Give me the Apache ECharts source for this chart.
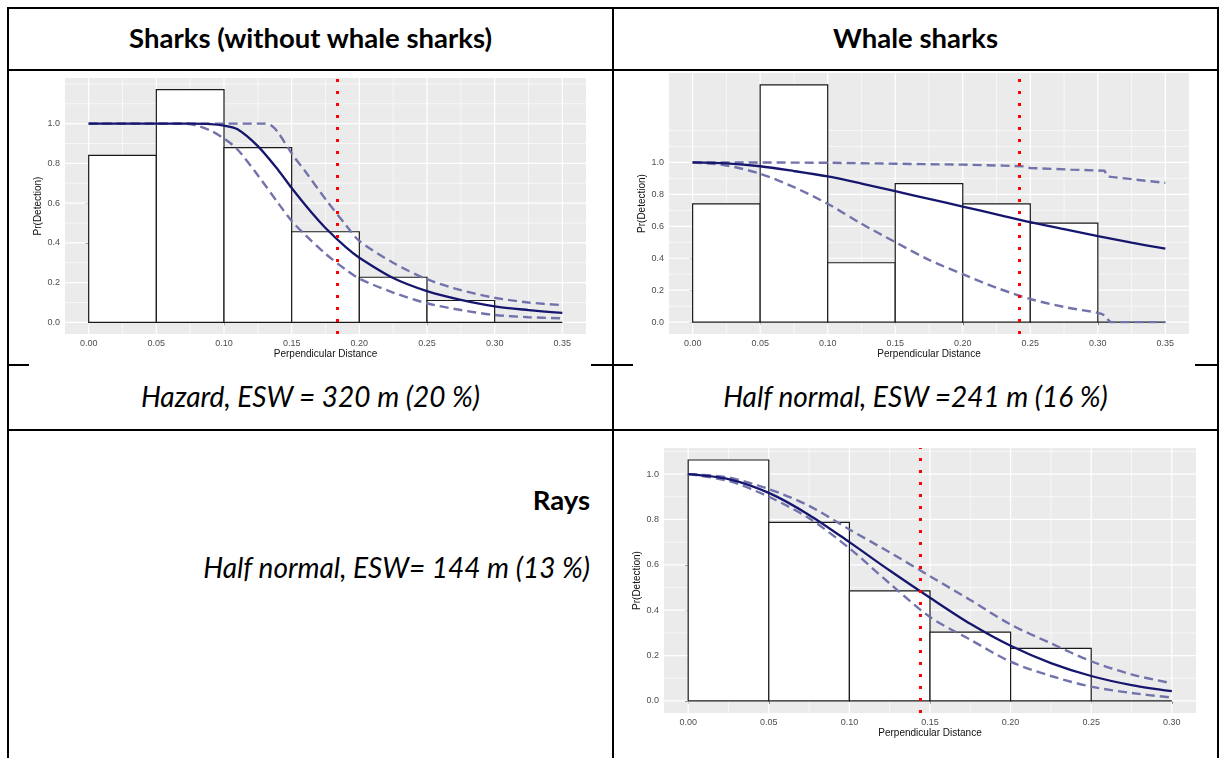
<!DOCTYPE html>
<html>
<head>
<meta charset="utf-8">
<script src="https://cdn.jsdelivr.net/npm/echarts@6/dist/echarts.min.js"></script>
<style>
  html, body { margin: 0; padding: 0; background: #fff; }
  #page { position: relative; width: 1221px; height: 758px; overflow: hidden; background: #fff; }
  .ln { position: absolute; background: #000; }
  .txt { position: absolute; font-family: Lato, "Open Sans", sans-serif; color: #000; white-space: nowrap; }
  .hdr { font-weight: bold; font-size: 27.5px; text-align: center; }
  .cap { font-style: italic; font-size: 28px; text-align: center; }
  #chart { position: absolute; left: 0; top: 0; width: 1221px; height: 758px; }
</style>
</head>
<body>
<div id="page">
  <!-- table rules -->
  <div class="ln" style="left:7px;top:7px;width:1212px;height:2px"></div>
  <div class="ln" style="left:7px;top:69px;width:1212px;height:2px"></div>
  <div class="ln" style="left:7px;top:429px;width:1212px;height:2px"></div>
  <div class="ln" style="left:7px;top:7px;width:2px;height:751px"></div>
  <div class="ln" style="left:612px;top:7px;width:2px;height:751px"></div>
  <div class="ln" style="left:1217px;top:7px;width:2px;height:751px"></div>
  <div class="ln" style="left:7px;top:364px;width:22px;height:2px"></div>
  <div class="ln" style="left:591px;top:364px;width:42px;height:2px"></div>
  <div class="ln" style="left:1195px;top:364px;width:24px;height:2px"></div>

  <div class="txt hdr" style="left:9px;top:21px;width:603px">Sharks (without whale sharks)</div>
  <div class="txt hdr" style="left:614px;top:21px;width:603px">Whale sharks</div>
  <div class="txt cap" style="left:9px;top:379px;width:603px">Hazard, ESW = 320 m (20 %)</div>
  <div class="txt cap" style="left:614px;top:379px;width:603px">Half normal, ESW =241 m (16 %)</div>
  <div class="txt hdr" style="left:9px;top:483px;width:581px;text-align:right">Rays</div>
  <div class="txt cap" style="left:9px;top:550px;width:581px;text-align:right">Half normal, ESW= 144 m (13 %)</div>

  <div id="chart"></div>
</div>
<script>
// histogram bins
const edges35 = [0, 0.05, 0.1, 0.15, 0.2, 0.25, 0.3, 0.35]
const edges30 = [0, 0.05, 0.1, 0.15, 0.2, 0.25, 0.3]
const sharksBars = [0.84, 1.171, 0.879, 0.456, 0.227, 0.11, 0]
const whaleBars = [0.741, 1.486, 0.372, 0.867, 0.741, 0.62, 0]
const raysBars = [1.062, 0.787, 0.485, 0.303, 0.232, 0]

// fitted detection function (solid) and confidence bounds (dashed)
const sharksFitX = [0, 0.025, 0.05, 0.075, 0.09, 0.1, 0.11, 0.125, 0.14, 0.15, 0.165, 0.175, 0.19, 0.2, 0.225, 0.25, 0.275, 0.3, 0.325, 0.35]
const sharksFitY = [1, 1, 1, 1, 0.998, 0.99, 0.972, 0.887, 0.767, 0.676, 0.55, 0.475, 0.378, 0.325, 0.223, 0.157, 0.113, 0.08, 0.062, 0.048]
const sharksUpX = [0, 0.05, 0.1, 0.13, 0.135, 0.14, 0.15, 0.16, 0.175, 0.19, 0.2, 0.225, 0.25, 0.275, 0.3, 0.325, 0.35]
const sharksUpY = [1, 1, 1, 1, 0.99, 0.955, 0.85, 0.76, 0.62, 0.49, 0.41, 0.3, 0.217, 0.162, 0.124, 0.1, 0.087]
const sharksLoX = [0, 0.05, 0.07, 0.08, 0.09, 0.1, 0.11, 0.125, 0.14, 0.15, 0.16, 0.175, 0.19, 0.2, 0.225, 0.25, 0.275, 0.3, 0.325, 0.35]
const sharksLoY = [1, 1, 1, 0.99, 0.965, 0.925, 0.87, 0.74, 0.6, 0.51, 0.44, 0.345, 0.265, 0.22, 0.15, 0.096, 0.062, 0.037, 0.026, 0.02]

const whaleFitX = [0, 0.025, 0.05, 0.075, 0.1, 0.125, 0.15, 0.175, 0.2, 0.225, 0.25, 0.275, 0.3, 0.325, 0.35]
const whaleFitY = [1, 0.994, 0.976, 0.946, 0.912, 0.868, 0.82, 0.772, 0.724, 0.675, 0.626, 0.582, 0.539, 0.498, 0.46]
const whaleUpX = [0, 0.05, 0.1, 0.15, 0.2, 0.23, 0.245, 0.25, 0.28, 0.305, 0.307, 0.35]
const whaleUpY = [1, 1, 0.998, 0.992, 0.986, 0.98, 0.975, 0.965, 0.955, 0.948, 0.912, 0.872]
const whaleLoX = [0, 0.025, 0.05, 0.075, 0.1, 0.125, 0.15, 0.175, 0.2, 0.225, 0.25, 0.275, 0.3, 0.305, 0.31, 0.35]
const whaleLoY = [1, 0.981, 0.929, 0.845, 0.741, 0.616, 0.501, 0.39, 0.3, 0.215, 0.145, 0.095, 0.058, 0.042, 0, 0]

const raysX = [0, 0.025, 0.05, 0.075, 0.1, 0.125, 0.15, 0.175, 0.2, 0.225, 0.25, 0.275, 0.3]
const raysFitY = [1, 0.978, 0.917, 0.82, 0.7, 0.575, 0.455, 0.34, 0.243, 0.167, 0.11, 0.07, 0.043]
const raysUpY = [1, 0.985, 0.934, 0.86, 0.756, 0.655, 0.55, 0.445, 0.337, 0.254, 0.175, 0.117, 0.078]
const raysLoY = [1, 0.97, 0.9, 0.805, 0.673, 0.518, 0.37, 0.27, 0.173, 0.11, 0.063, 0.035, 0.015]

// effective strip width (red dotted line)
const sharksEsw = 0.1835
const whaleEsw = 0.2415
const raysEsw = 0.1437

// axis breaks
const xBreaks35 = [0, 0.05, 0.1, 0.15, 0.2, 0.25, 0.3, 0.35]
const xMinor35 = [0.025, 0.075, 0.125, 0.175, 0.225, 0.275, 0.325]
const xBreaks30 = [0, 0.05, 0.1, 0.15, 0.2, 0.25, 0.3]
const xMinor30 = [0.025, 0.075, 0.125, 0.175, 0.225, 0.275]
const yBreaks = [0, 0.2, 0.4, 0.6, 0.8, 1.0]
const yMinorTall = [0.1, 0.3, 0.5, 0.7, 0.9, 1.1, 1.2]
const yMinorShort = [0.1, 0.3, 0.5, 0.7, 0.9, 1.1]

const labelFont = 'Liberation Sans, Arial, sans-serif'

const pairs = (xs, ys) => xs.map((x, i) => [x, ys[i]])

const gridLines = (idx, values, dir, width) => ({
	type: 'custom',
	xAxisIndex: idx,
	yAxisIndex: idx,
	z: 1,
	silent: true,
	data: values.map(v => (dir === 'y' ? [0, v] : [v, 0])),
	renderItem: (params, api) => {
		const cs = params.coordSys
		if (dir === 'y') {
			const y = api.coord([0, api.value(1)])[1]
			return { type: 'line', shape: { x1: cs.x, y1: y, x2: cs.x + cs.width, y2: y }, style: { stroke: '#fff', lineWidth: width } }
		}
		const x = api.coord([api.value(0), 0])[0]
		return { type: 'line', shape: { x1: x, y1: cs.y, x2: x, y2: cs.y + cs.height }, style: { stroke: '#fff', lineWidth: width } }
	}
})

const histogram = (idx, edges, heights) => ({
	type: 'custom',
	xAxisIndex: idx,
	yAxisIndex: idx,
	z: 2,
	silent: true,
	encode: { x: [0, 1], y: 2 },
	data: heights.map((h, i) => [edges[i], edges[i + 1], h]),
	renderItem: (params, api) => {
		const p0 = api.coord([api.value(0), api.value(2)])
		const p1 = api.coord([api.value(1), 0])
		return {
			type: 'rect',
			shape: { x: p0[0], y: p0[1], width: p1[0] - p0[0], height: p1[1] - p0[1] },
			style: { fill: '#fff', stroke: '#1a1a1a', lineWidth: 1.2 }
		}
	}
})

const dashed = (idx, data, smooth) => ({
	type: 'line',
	xAxisIndex: idx,
	yAxisIndex: idx,
	z: 3,
	silent: true,
	showSymbol: false,
	smooth: smooth,
	data: data,
	lineStyle: { color: '#7373ab', width: 2.4, type: [9, 5] }
})

const fitted = (idx, data, esw) => ({
	type: 'line',
	xAxisIndex: idx,
	yAxisIndex: idx,
	z: 4,
	silent: true,
	showSymbol: false,
	smooth: 0.3,
	data: data,
	lineStyle: { color: '#16166e', width: 2.3 },
	markLine: {
		silent: true,
		precision: 4,
		symbol: ['none', 'none'],
		label: { show: false },
		lineStyle: { color: '#ff0000', width: 3, type: [3, 9] },
		data: [{ xAxis: esw }]
	}
})

const xAxis = (idx, min, max, breaks) => ({
	type: 'value',
	gridIndex: idx,
	min: min,
	max: max,
	axisLine: { show: false },
	splitLine: { show: false },
	axisTick: { show: true, length: 3, customValues: breaks, lineStyle: { color: '#333', width: 1 } },
	axisLabel: { customValues: breaks, formatter: v => v.toFixed(2), color: '#4d4d4d', fontSize: 9, fontFamily: labelFont, margin: 5 },
	name: 'Perpendicular Distance',
	nameLocation: 'middle',
	nameGap: 14,
	nameTextStyle: { color: '#111', fontSize: 10, fontFamily: labelFont }
})

const yAxis = (idx, min, max) => ({
	type: 'value',
	gridIndex: idx,
	min: min,
	max: max,
	axisLine: { show: false },
	splitLine: { show: false },
	axisTick: { show: true, length: 3, customValues: yBreaks, lineStyle: { color: '#333', width: 1 } },
	axisLabel: { customValues: yBreaks, formatter: v => v.toFixed(1), color: '#4d4d4d', fontSize: 9, fontFamily: labelFont, margin: 5 },
	name: 'Pr(Detection)',
	nameLocation: 'middle',
	nameRotate: 90,
	nameGap: 22,
	nameTextStyle: { color: '#111', fontSize: 10, fontFamily: labelFont }
})

const panel = (left, top, width, height) => ({
	left: left, top: top, width: width, height: height,
	show: true, backgroundColor: '#ebebeb', borderWidth: 0,
	containLabel: false, outerBoundsMode: 'none'
})

const initChart = () => {
	const chartDom = document.getElementById('chart')
	const myChart = echarts.init(chartDom, null, { renderer: 'canvas' })
	const options = {
		animation: false,
		backgroundColor: 'transparent',
		grid: [
			panel(65, 78, 521, 256),
			panel(669, 73, 520, 261),
			panel(664, 448, 532, 265)
		],
		xAxis: [
			xAxis(0, -0.0175, 0.3675, xBreaks35),
			xAxis(1, -0.0175, 0.3675, xBreaks35),
			xAxis(2, -0.015, 0.315, xBreaks30)
		],
		yAxis: [
			yAxis(0, -0.0586, 1.2296),
			yAxis(1, -0.0743, 1.56),
			yAxis(2, -0.0531, 1.115)
		],
		series: [
			gridLines(0, yMinorTall, 'y', 0.6),
			gridLines(0, xMinor35, 'x', 0.6),
			gridLines(0, yBreaks, 'y', 1.2),
			gridLines(0, xBreaks35, 'x', 1.2),
			histogram(0, edges35, sharksBars),
			dashed(0, pairs(sharksUpX, sharksUpY), 0.3),
			dashed(0, pairs(sharksLoX, sharksLoY), 0.3),
			fitted(0, pairs(sharksFitX, sharksFitY), sharksEsw),

			gridLines(1, yMinorTall, 'y', 0.6),
			gridLines(1, xMinor35, 'x', 0.6),
			gridLines(1, yBreaks, 'y', 1.2),
			gridLines(1, xBreaks35, 'x', 1.2),
			histogram(1, edges35, whaleBars),
			dashed(1, pairs(whaleUpX, whaleUpY), false),
			dashed(1, pairs(whaleLoX, whaleLoY), 0.3),
			fitted(1, pairs(whaleFitX, whaleFitY), whaleEsw),

			gridLines(2, yMinorShort, 'y', 0.6),
			gridLines(2, xMinor30, 'x', 0.6),
			gridLines(2, yBreaks, 'y', 1.2),
			gridLines(2, xBreaks30, 'x', 1.2),
			histogram(2, edges30, raysBars),
			dashed(2, pairs(raysX, raysUpY), 0.3),
			dashed(2, pairs(raysX, raysLoY), 0.3),
			fitted(2, pairs(raysX, raysFitY), raysEsw)
		]
	}
	myChart.setOption(options)
	return myChart
}

initChart()
</script>
</body>
</html>
